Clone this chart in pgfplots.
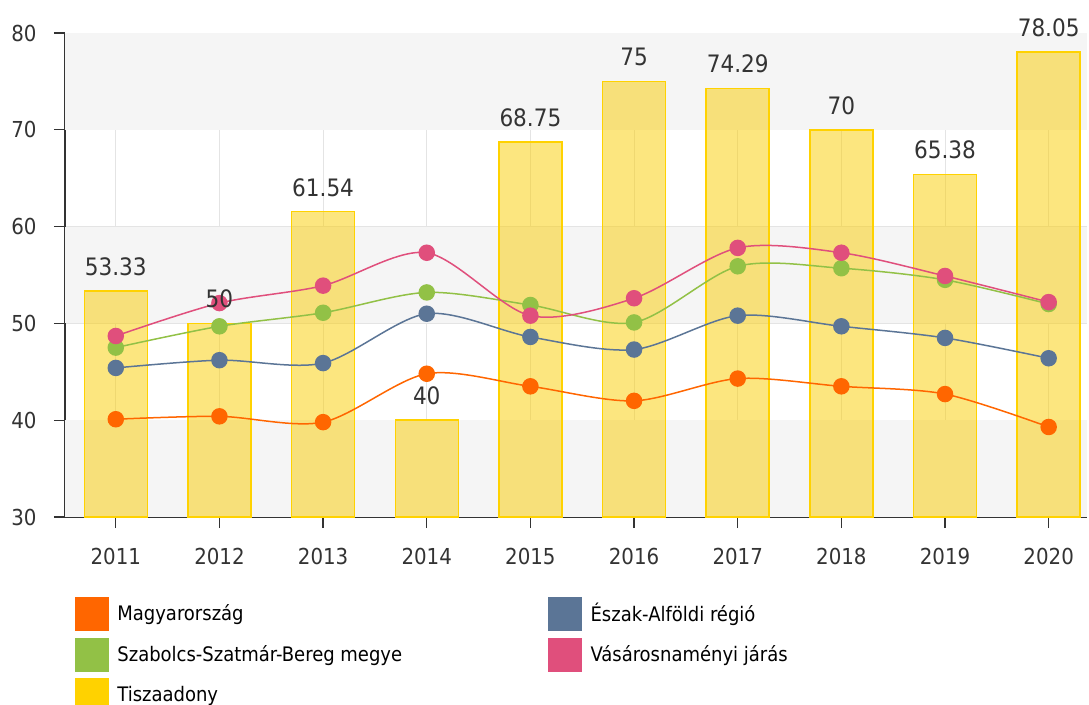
\documentclass[border=0pt]{standalone}
\usepackage{pgfplots}
\pgfplotsset{compat=1.18}
\usepackage{fontspec}
\setmainfont{DejaVu Sans Condensed}
\definecolor{cOrange}{RGB}{255,102,0}
\definecolor{cBlue}{RGB}{91,117,150}
\definecolor{cGreen}{RGB}{146,193,70}
\definecolor{cPink}{RGB}{224,79,124}
\definecolor{cYellow}{RGB}{255,210,0}
\definecolor{cBarFill}{RGB}{250,205,0}
\definecolor{cBand}{RGB}{245,245,245}
\definecolor{cGrid}{RGB}{228,228,228}
\definecolor{cText}{RGB}{51,51,51}
\begin{document}
\begin{tikzpicture}
\begin{axis}[
  name=ax,
  at={(0,0)}, anchor=south west,
  scale only axis,
  width=1022pt, height=484pt,
  xmin=-0.49, xmax=9.37,
  ymin=30, ymax=80,
  xtick={0,...,9},
  xticklabels={2011,2012,2013,2014,2015,2016,2017,2018,2019,2020},
  ytick={30,40,50,60,70,80},
  axis x line*=bottom, axis y line*=left,
  axis line style={cText, line width=1.3pt, -},
  tick align=outside,
  major tick length=11pt,
  tick style={cText, line width=1.2pt},
  xmajorgrids, ymajorgrids,
  grid style={cGrid, line width=1pt},
  ticklabel style={font=\fontsize{22}{26}\selectfont, text=cText},
  /pgf/number format/assume math mode=true,
  yticklabel style={xshift=-14pt},
  xticklabel style={yshift=-17pt},
  legend columns=2,
  legend style={at={(rel axis cs:0,0)}, anchor=north west, xshift=10pt, yshift=-80pt,
    draw=none, fill=none, inner sep=0pt, row sep=7pt, column sep=0pt,
    font=\fontsize{20}{24}\selectfont, text=black,
    nodes={inner sep=0pt}},
  legend cell align=left,
]
% background bands
\fill[cBand] (axis cs:-0.49,30) rectangle (axis cs:9.37,40);
\fill[cBand] (axis cs:-0.49,50) rectangle (axis cs:9.37,60);
\fill[cBand] (axis cs:-0.49,70) rectangle (axis cs:9.37,80);

% Tiszaadony bars
\addplot[ybar, bar width=63pt, fill=cBarFill, fill opacity=0.5, draw=cYellow, line width=1.5pt, forget plot]
  coordinates {(0,53.33) (1,50) (2,61.54) (3,40) (4,68.75) (5,75) (6,74.29) (7,70) (8,65.38) (9,78.05)};

% Magyarország
\addplot[cOrange, line width=1.5pt, smooth, tension=0.5, mark=*, mark size=7.5pt, mark options={draw=cOrange, fill=cOrange}, forget plot]
  coordinates {(0,40.1) (1,40.4) (2,39.8) (3,44.8) (4,43.5) (5,42.0) (6,44.3) (7,43.5) (8,42.7) (9,39.3)};
% Észak-Alföldi régió
\addplot[cBlue, line width=1.5pt, smooth, tension=0.5, mark=*, mark size=7.5pt, mark options={draw=cBlue, fill=cBlue}, forget plot]
  coordinates {(0,45.4) (1,46.2) (2,45.9) (3,51.0) (4,48.6) (5,47.3) (6,50.8) (7,49.7) (8,48.5) (9,46.4)};
% Szabolcs-Szatmár-Bereg megye
\addplot[cGreen, line width=1.5pt, smooth, tension=0.5, mark=*, mark size=7.5pt, mark options={draw=cGreen, fill=cGreen}, forget plot]
  coordinates {(0,47.5) (1,49.7) (2,51.1) (3,53.2) (4,51.9) (5,50.1) (6,55.9) (7,55.7) (8,54.5) (9,52.0)};
% Vásárosnaményi járás
\addplot[cPink, line width=1.5pt, smooth, tension=0.5, mark=*, mark size=7.5pt, mark options={draw=cPink, fill=cPink}, forget plot]
  coordinates {(0,48.7) (1,52.1) (2,53.9) (3,57.3) (4,50.8) (5,52.6) (6,57.8) (7,57.3) (8,54.9) (9,52.2)};

% bar value labels
\addplot[draw=none, mark=none, forget plot, point meta=explicit symbolic,
  nodes near coords,
  every node near coord/.append style={anchor=south, inner sep=0pt, yshift=15pt,
    font=\fontsize{24}{28}\selectfont, text=cText}]
  coordinates {(0,53.33) [53.33] (1,50) [50] (2,61.54) [61.54] (3,40) [40] (4,68.75) [68.75]
               (5,75) [75] (6,74.29) [74.29] (7,70) [70] (8,65.38) [65.38] (9,78.05) [78.05]};

% legend
\addlegendimage{legend image code/.code={\fill[cOrange] (0pt,-17pt) rectangle (33pt,16pt); \path[draw=none] (0pt,0pt) -- (42pt,0pt);}}
\addlegendentry{\makebox[431pt][l]{Magyarország}}
\addlegendimage{legend image code/.code={\fill[cBlue] (0pt,-17pt) rectangle (33pt,16pt); \path[draw=none] (0pt,0pt) -- (42pt,0pt);}}
\addlegendentry{Észak-Alföldi régió}
\addlegendimage{legend image code/.code={\fill[cGreen] (0pt,-17pt) rectangle (33pt,16pt); \path[draw=none] (0pt,0pt) -- (42pt,0pt);}}
\addlegendentry{\makebox[431pt][l]{Szabolcs-Szatmár-Bereg megye}}
\addlegendimage{legend image code/.code={\fill[cPink] (0pt,-17pt) rectangle (33pt,16pt); \path[draw=none] (0pt,0pt) -- (42pt,0pt);}}
\addlegendentry{Vásárosnaményi járás}
\addlegendimage{legend image code/.code={\fill[cYellow] (0pt,-17pt) rectangle (33pt,16pt); \path[draw=none] (0pt,0pt) -- (42pt,0pt);}}
\addlegendentry{\makebox[431pt][l]{Tiszaadony}}
\end{axis}
\pgfresetboundingbox
\path[use as bounding box] (-65pt,-187pt) rectangle (1024pt,517pt);
\end{tikzpicture}
\end{document}
